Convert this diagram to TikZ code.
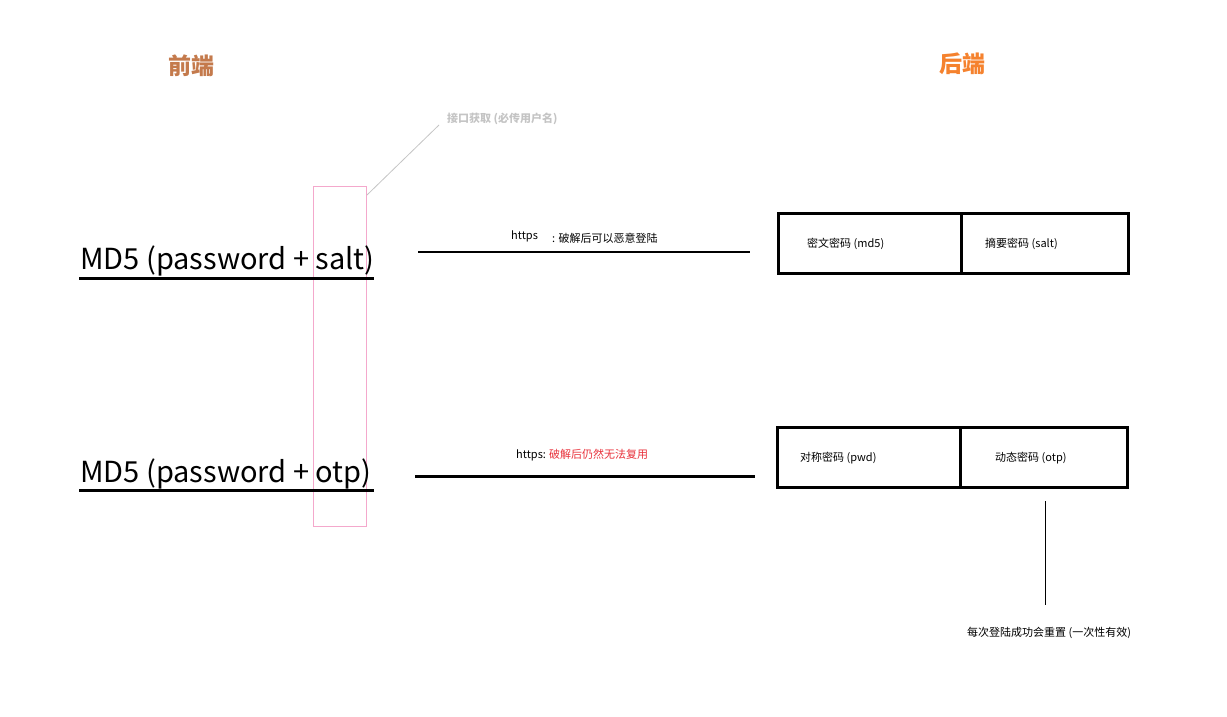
\documentclass[tikz,border=0pt]{standalone}
\usepackage{fontspec}
\setmainfont{Noto Sans CJK SC}
\begin{document}
\begin{tikzpicture}[x=1pt,y=-1pt,
  every node/.style={inner sep=0pt,anchor=west},
  small/.style={font=\fontsize{11}{13}\selectfont},
  big/.style={font=\fontsize{29}{32}\selectfont},
  title/.style={font=\fontsize{23}{26}\selectfont\bfseries,anchor=center},
  box/.style={draw=black,line width=3pt},
  uline/.style={line width=3pt}]
\useasboundingbox (0,0) rectangle (1227,717);
\definecolor{frontc}{HTML}{C47A4C}
\definecolor{backc}{HTML}{F5822E}
\definecolor{grayt}{HTML}{C4C4C4}
\definecolor{pinkc}{HTML}{F4A8CC}
\definecolor{redt}{HTML}{E8303A}
% titles
\node[title,text=frontc] (front) at (191,66) {前端};
\node[title,text=backc] (back) at (962,64) {后端};
% gray label + leader
\node[small,font=\fontsize{11}{13}\selectfont\bfseries,text=grayt] (api) at (447,119) {接口获取 (必传用户名)};
\draw[pinkc,line width=1pt] (313,186) rectangle (366,526);
\coordinate (pinktop) at (367,195);
\coordinate (apiend) at (439,125);
\draw[grayt,line width=0.8pt] (apiend) -- (pinktop);
% MD5 texts
\node[big] (md1) at (80,261) {MD5 (password + salt)};
\node[big] (md2) at (80,474) {MD5 (password + otp)};
\coordinate (u1a) at (79,278); \coordinate (u1b) at (374,278);
\coordinate (u2a) at (79,490); \coordinate (u2b) at (374,490);
\draw[uline] (u1a) -- (u1b);
\draw[uline] (u2a) -- (u2b);
% transfer lines
\coordinate (l1a) at (418,252); \coordinate (l1b) at (750,252);
\coordinate (l2a) at (415,476); \coordinate (l2b) at (755,476);
\draw[line width=1.2pt] (l1a) -- (l1b);
\draw[line width=3pt] (l2a) -- (l2b);
\node[small] (h1) at (511,236) {https};
\node[small] (h1b) at (552,238) {: 破解后可以恶意登陆};
\node[small] (h2) at (516,455) {https: \textcolor{redt}{破解后仍然无法复用}};
% boxes
\draw[box] (778,213) rectangle (1128,273);
\draw[box] (961,213) -- (961,273);
\draw[box] (777,427) rectangle (1127,487);
\draw[box] (960,427) -- (960,487);
\node[small] (md5) at (807,244) {密文密码 (md5)};
\node[small] (salt) at (985,244) {摘要密码 (salt)};
\node[small] (pwd) at (800,458) {对称密码 (pwd)};
\node[small] (otp) at (995,458) {动态密码 (otp)};
% reset note
\node[small] (reset) at (967,633) {每次登陆成功会重置 (一次性有效)};
\coordinate (va) at (1045,501); \coordinate (vb) at (1045,605);
\draw[line width=0.8pt] (va) -- (vb);
\end{tikzpicture}
\end{document}
